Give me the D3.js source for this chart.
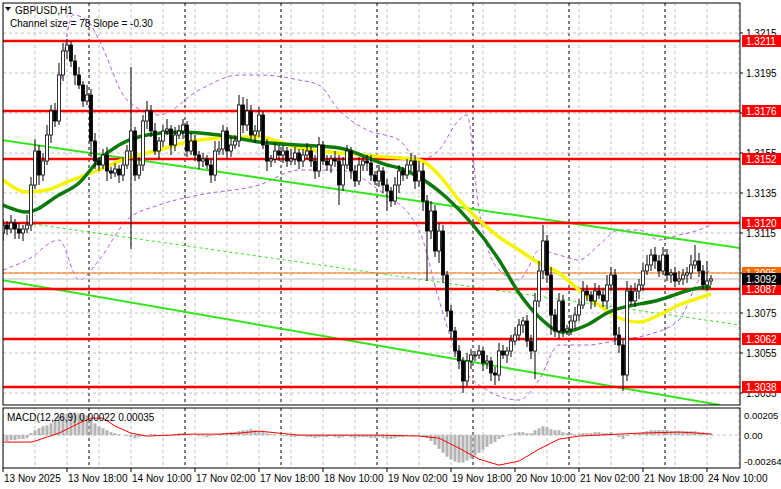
<!DOCTYPE html>
<html><head><meta charset="utf-8">
<script src="https://cdn.jsdelivr.net/npm/d3@7"></script>
<style>body{margin:0;background:#fff}text{font-family:"Liberation Sans",Arial,sans-serif}</style>
</head><body>
<script>
// candle data, prices in pips above 1.3000 (GBPUSD H1 from 13 Nov 02:00)
var base = 1.3;
var closes = [119,117,120,117,115,117,119,139,156,144,151,164,176,171,194,206,209,201,194,189,181,184,161,151,149,154,146,145,147,144,149,156,166,144,149,171,176,166,156,161,166,167,159,164,166,169,156,161,154,151,152,149,144,156,157,166,156,159,161,179,169,176,164,166,174,159,151,152,156,154,156,151,152,155,151,154,156,151,146,159,151,149,152,151,139,149,156,146,141,149,151,150,144,141,146,139,136,131,139,146,144,149,151,141,146,131,116,126,106,116,94,76,66,56,51,41,51,54,54,56,50,51,45,44,56,54,56,61,64,69,71,61,56,81,96,111,94,74,66,81,66,67,71,74,79,86,84,81,86,84,81,89,94,64,59,44,86,81,86,89,96,99,104,101,96,104,94,95,91,92,94,95,99,101,96,89,91,92];
var wickUp = [3,2,4,2,3,2,5,4,6,3,4,5,3,4,6,4,3,2,3,4,2,5,3,4,2,3,4,2,3,2,4,3,32,2,4,3,5,3,4,2,3,5,2,4,3,3,2,4,3,2,3,2,3,5,4,3,2,4,3,5,4,6,3,3,4,2,3,2,4,3,3,2,5,3,2,3,4,2,3,4,2,3,2,4,3,4,3,2,3,4,2,3,4,2,3,2,3,2,4,3,2,3,4,3,5,4,3,5,3,4,3,2,3,2,3,2,4,3,2,3,2,3,2,3,4,3,2,3,4,3,2,3,3,4,5,8,3,4,3,4,3,2,3,4,3,5,3,2,4,3,3,5,4,3,4,3,5,3,4,3,4,5,3,4,3,4,3,2,3,4,3,3,5,8,4,3,10,2];
var wickDown = [4,3,2,5,3,4,2,3,2,5,3,2,4,3,2,3,4,3,5,2,3,2,8,4,3,2,5,3,2,4,3,2,49,3,2,3,4,3,2,4,3,2,5,3,2,4,3,2,3,4,3,2,4,3,2,3,4,3,2,3,4,3,2,4,3,2,5,3,2,3,4,3,2,3,4,3,2,3,4,3,2,3,4,3,10,3,2,4,3,2,3,4,3,2,3,4,10,3,2,4,3,2,3,4,3,5,25,4,3,6,4,3,4,3,4,6,3,4,3,2,4,3,4,5,3,2,4,3,2,3,4,3,4,14,3,4,4,10,3,4,3,2,3,4,3,2,3,4,3,2,3,4,3,5,4,8,3,2,3,4,3,2,3,4,3,2,3,4,3,2,3,4,3,2,3,2,3,2];
var firstOpen = 115;

// moving averages: [candle index, pips]
var maGreen = [[0,129],[6,125.5],[14,134],[19,140],[24,151.5],[29,159],[36,164],[44,165.5],[54,164],[64,160.5],[74,159],[84,157.5],[96,149],[99,147.5],[111,132.5],[124,101.5],[129,85],[134,73],[140,65.5],[146,69],[151,75],[164,81.5],[174,87.5],[177,88]];
var maYellow = [[0,141.5],[6,135.5],[11,136.5],[16,140.5],[24,146.5],[31,152.5],[39,156.5],[46,160.5],[54,162.5],[64,163],[74,157.5],[84,155],[96,153],[104,151.5],[109,144],[114,131.5],[119,121.5],[124,113],[129,106.5],[134,100],[139,95],[144,86.5],[149,79],[154,72.5],[159,70.5],[164,74],[169,79],[174,82.5],[177,84.5]];
var bandUpper = [[14,181.5],[17.5,224],[21,221.5],[24,211.5],[31,181.5],[39,174],[49,186.5],[59,194],[64,194],[74,191.5],[79,189],[84,176.5],[91,166.5],[99,161.5],[104,151.5],[109,156.5],[114,171.5],[116,174],[119,126.5],[124,96.5],[129,91.5],[131,96.5],[134,106.5],[139,104],[144,101.5],[149,109],[154,116.5],[159,116.5],[164,111.5],[169,114],[174,116.5],[177,119]];
var bandLower = [[0,96.5],[6,101.5],[14,111.5],[19,91.5],[24,101.5],[31,121.5],[39,129],[49,134],[64,139],[74,146.5],[84,146.5],[94,136.5],[104,116.5],[109,81.5],[114,51.5],[121,36.5],[129,31.5],[134,41.5],[139,59],[146,59],[154,61.5],[161,64],[169,71.5],[174,91.5],[177,96.5]];

// channel lines [idx, pips]
var channelTop = [[-0.5,161.5],[184.25,107.5]];
var channelBottom = [[-0.5,91.5],[179.25,29]];
var channelMid = [[7.5,119.5],[184.25,69]];

var levels = [1.3211,1.3176,1.3152,1.3120,1.3087,1.3062,1.3038];
var priceTicks = [1.3215,1.3195,1.3175,1.3155,1.3135,1.3115,1.3095,1.3075,1.3055,1.3035];
var timeLabels = ["13 Nov 2025","13 Nov 18:00","14 Nov 10:00","17 Nov 02:00","17 Nov 18:00","18 Nov 10:00","19 Nov 02:00","19 Nov 18:00","20 Nov 10:00","21 Nov 02:00","21 Nov 18:00","24 Nov 10:00"];
var daySeps = [22,46,70,94,118,142,166];

// MACD histogram (1e-3) and signal [idx, 1e-3]
var macdHist = [-0.6,-0.6,-0.5,-0.5,-0.4,-0.4,-0.3,0.2,0.5,0.7,0.9,1.0,1.2,1.5,1.9,2.1,2.2,2.3,2.3,2.2,2.1,2.0,1.6,1.2,0.9,0.7,0.5,0.3,0.2,0.1,
0.0,-0.1,-0.2,-0.3,-0.2,-0.1,0.0,0.1,0.1,0.0,-0.1,-0.1,0.0,0.1,0.2,0.2,0.1,0.0,0.0,-0.1,-0.1,-0.2,-0.1,0.0,0.1,0.2,0.2,0.3,0.3,0.4,
0.5,0.5,0.6,0.5,0.4,0.3,0.2,0.1,0.1,0.0,-0.1,-0.1,-0.2,-0.2,-0.1,-0.1,-0.2,-0.2,-0.3,-0.2,-0.2,-0.2,-0.1,-0.2,-0.3,-0.2,-0.1,-0.2,-0.3,-0.2,
-0.2,-0.2,-0.3,-0.3,-0.2,-0.3,-0.4,-0.4,-0.3,-0.2,-0.2,-0.1,0.0,-0.1,-0.1,-0.2,
-0.3,-0.6,-1.0,-1.4,-1.8,-2.2,-2.5,-2.7,-2.8,-2.8,-2.6,-2.4,-2.1,-1.8,-1.5,-1.2,-0.9,-0.7,-0.4,-0.2,
0.0,0.1,0.2,0.3,0.3,0.2,0.2,0.5,0.7,0.9,0.8,0.6,0.5,0.5,0.3,0.2,0.2,0.1,0.1,0.2,
0.2,0.2,0.3,0.3,0.2,0.2,0.3,0.0,-0.2,-0.4,-0.1,0.0,0.1,0.2,0.3,0.4,0.5,0.5,0.5,0.5,
0.5,0.4,0.4,0.4,0.4,0.4,0.4,0.4,0.3,0.3,0.2,0.2];
var macdSignal = [[0,-0.71],[7,-0.71],[8,-0.61],[14,0.2],[19,1.22],[22,1.73],[25,1.73],[28,0.92],[32,0.2],[36,-0.1],[42,0],[47,0.1],[54,0.1],[59,0.2],[64,0.41],[69,0.2],[74,0],[84,0],[94,0],[104,-0.1],[109,-0.31],[114,-1.33],[119,-2.45],[124,-3.06],[129,-2.65],[134,-1.43],[139,-0.41],[144,-0.1],[149,0],[159,0.2],[169,0.31],[174,0.2],[177,0.1]];

var W = 781, H = 489;
var L = 3, R = 740, T = 3, B = 405, MT = 408, MB = 468;
var svg = d3.select("body").append("svg").attr("width", W).attr("height", H);

var x = d3.scaleLinear().domain([0, 177]).range([3, 711]);
var y = d3.scaleLinear().domain([1.3211, 1.3038]).range([41, 387]);
var ym = d3.scaleLinear().domain([-0.00264, 0.00205]).range([461, 415]);
function p(v){ return base + v / 10000; }

svg.append("defs").append("clipPath").attr("id","main").append("rect").attr("x",L).attr("y",T).attr("width",R-L).attr("height",B-T);
svg.append("defs").append("clipPath").attr("id","macd").append("rect").attr("x",L).attr("y",MT).attr("width",R-L).attr("height",MB-MT);
var g = svg.append("g").attr("clip-path","url(#main)");
var gm = svg.append("g").attr("clip-path","url(#macd)");

// grid
var gridX = d3.range(0, 185, 8);
[g, gm].forEach(function(gg, k){
  gg.selectAll("line.gx").data(gridX).enter().append("line")
    .attr("x1", function(d){return x(d)}).attr("x2", function(d){return x(d)})
    .attr("y1", k ? MT : T).attr("y2", k ? MB : B)
    .attr("stroke","#c0c0c0").attr("stroke-dasharray","3,3");
  gg.selectAll("line.ds").data(daySeps).enter().append("line")
    .attr("x1", function(d){return x(d)-2}).attr("x2", function(d){return x(d)-2})
    .attr("y1", k ? MT : T).attr("y2", k ? MB : B)
    .attr("stroke","#000").attr("stroke-dasharray","3,3");
});
g.selectAll("line.gy").data(priceTicks).enter().append("line")
  .attr("x1",L).attr("x2",R).attr("y1",function(d){return y(d)}).attr("y2",function(d){return y(d)})
  .attr("stroke","#c0c0c0").attr("stroke-dasharray","3,3");
gm.append("line").attr("x1",L).attr("x2",R).attr("y1",ym(0)).attr("y2",ym(0))
  .attr("stroke","#c0c0c0").attr("stroke-dasharray","3,3");

var line = d3.line().x(function(d){return x(d[0])}).y(function(d){return y(p(d[1]))});
var curve = d3.line().curve(d3.curveMonotoneX).x(function(d){return x(d[0])}).y(function(d){return y(p(d[1]))});

// bands
[bandUpper, bandLower].forEach(function(b){
  g.append("path").attr("d", curve(b)).attr("fill","none").attr("stroke","#b15ee6").attr("stroke-dasharray","4,3");
});
// channel
g.append("path").attr("d", line(channelTop)).attr("stroke","#33e61a").attr("stroke-width",2);
g.append("path").attr("d", line(channelBottom)).attr("stroke","#33e61a").attr("stroke-width",2);
g.append("path").attr("d", line(channelMid)).attr("stroke","#33e61a").attr("stroke-dasharray","3,3");

// horizontal levels
g.append("line").attr("x1",L).attr("x2",R).attr("y1",y(1.3095)).attr("y2",y(1.3095)).attr("stroke","#ff6a00");
g.append("line").attr("x1",L).attr("x2",R).attr("y1",y(1.3092)).attr("y2",y(1.3092)).attr("stroke","#c0c0c0");
g.selectAll("line.lv").data(levels).enter().append("line")
  .attr("x1",L).attr("x2",R).attr("y1",function(d){return y(d)}).attr("y2",function(d){return y(d)})
  .attr("stroke","#ff0000").attr("stroke-width",2.5);

// moving averages
g.append("path").attr("d", curve(maYellow)).attr("fill","none").attr("stroke","#f5f500").attr("stroke-width",3.5);
g.append("path").attr("d", curve(maGreen)).attr("fill","none").attr("stroke","#0b7a0b").attr("stroke-width",3.5);

// candles
var candles = closes.map(function(c, i){
  var o = i ? closes[i-1] : firstOpen;
  return {i:i, o:o, c:c, h:Math.max(o,c)+wickUp[i], l:Math.min(o,c)-wickDown[i]};
});
var cg = g.selectAll("g.c").data(candles).enter().append("g");
cg.append("line").attr("x1",function(d){return x(d.i)}).attr("x2",function(d){return x(d.i)})
  .attr("y1",function(d){return y(p(d.h))}).attr("y2",function(d){return y(p(d.l))}).attr("stroke","#000");
cg.append("rect").attr("x",function(d){return x(d.i)-1.5}).attr("width",3)
  .attr("y",function(d){return y(p(Math.max(d.o,d.c)))})
  .attr("height",function(d){return Math.max(1, Math.abs(y(p(d.o))-y(p(d.c))))})
  .attr("fill",function(d){return d.c >= d.o ? "#fff" : "#000"}).attr("stroke","#000").attr("stroke-width",0.8);

// MACD
gm.selectAll("rect.h").data(macdHist).enter().append("rect")
  .attr("x",function(d,i){return x(i)-1.5}).attr("width",3)
  .attr("y",function(d){return Math.min(ym(d/1000), ym(0))})
  .attr("height",function(d){return Math.abs(ym(d/1000)-ym(0))})
  .attr("fill","#b4b4b4");
gm.append("path").attr("d", d3.line().x(function(d){return x(d[0])}).y(function(d){return ym(d[1]/1000)})(macdSignal))
  .attr("fill","none").attr("stroke","#ff0000");

// frames
svg.append("rect").attr("x",L).attr("y",T).attr("width",R-L).attr("height",B-T).attr("fill","none").attr("stroke","#000");
svg.append("rect").attr("x",L).attr("y",MT).attr("width",R-L).attr("height",MB-MT).attr("fill","none").attr("stroke","#000");

// right axis
var fs = "10px";
svg.selectAll("text.pt").data(priceTicks).enter().append("text")
  .attr("x",746).attr("y",function(d){return y(d)+4}).attr("font-size",fs).text(function(d){return d.toFixed(4)});
svg.selectAll("line.pt").data(priceTicks).enter().append("line")
  .attr("x1",R).attr("x2",R+3).attr("y1",function(d){return y(d)}).attr("y2",function(d){return y(d)}).attr("stroke","#000");
function tag(v, fill, col){
  svg.append("rect").attr("x",742).attr("y",y(v)-6).attr("width",39).attr("height",12).attr("fill",fill);
  svg.append("text").attr("x",746).attr("y",y(v)+4).attr("font-size",fs).attr("fill",col).text(v.toFixed(4));
}
tag(1.3095, "#ff6a00", "#fff");
levels.forEach(function(v){ tag(v, "#ff0000", "#fff"); });
tag(1.3092, "#000", "#fff");

[0.00205, 0, -0.00264].forEach(function(v){
  svg.append("text").attr("x",744).attr("y",ym(v)+4).attr("font-size","9.5px")
    .text(v === 0 ? "0.00" : v.toFixed(5));
});

// time axis
svg.selectAll("text.tl").data(timeLabels).enter().append("text")
  .attr("x",function(d,i){return x(i*16)+1}).attr("y",482).attr("font-size",fs).text(function(d){return d});
svg.selectAll("line.tl").data(timeLabels).enter().append("line")
  .attr("x1",function(d,i){return x(i*16)}).attr("x2",function(d,i){return x(i*16)})
  .attr("y1",MB).attr("y2",MB+4).attr("stroke","#000");

// titles
svg.append("path").attr("d","M5,7L11,7L8,11Z").attr("fill","#000");
svg.append("text").attr("x",15).attr("y",14).attr("font-size",fs).text("GBPUSD,H1");
svg.append("text").attr("x",10).attr("y",27).attr("font-size",fs).text("Channel size = 78 Slope = -0.30");
svg.append("text").attr("x",7).attr("y",421).attr("font-size",fs).text("MACD(12,26,9) 0.00022 0.00035");
</script>
</body></html>
